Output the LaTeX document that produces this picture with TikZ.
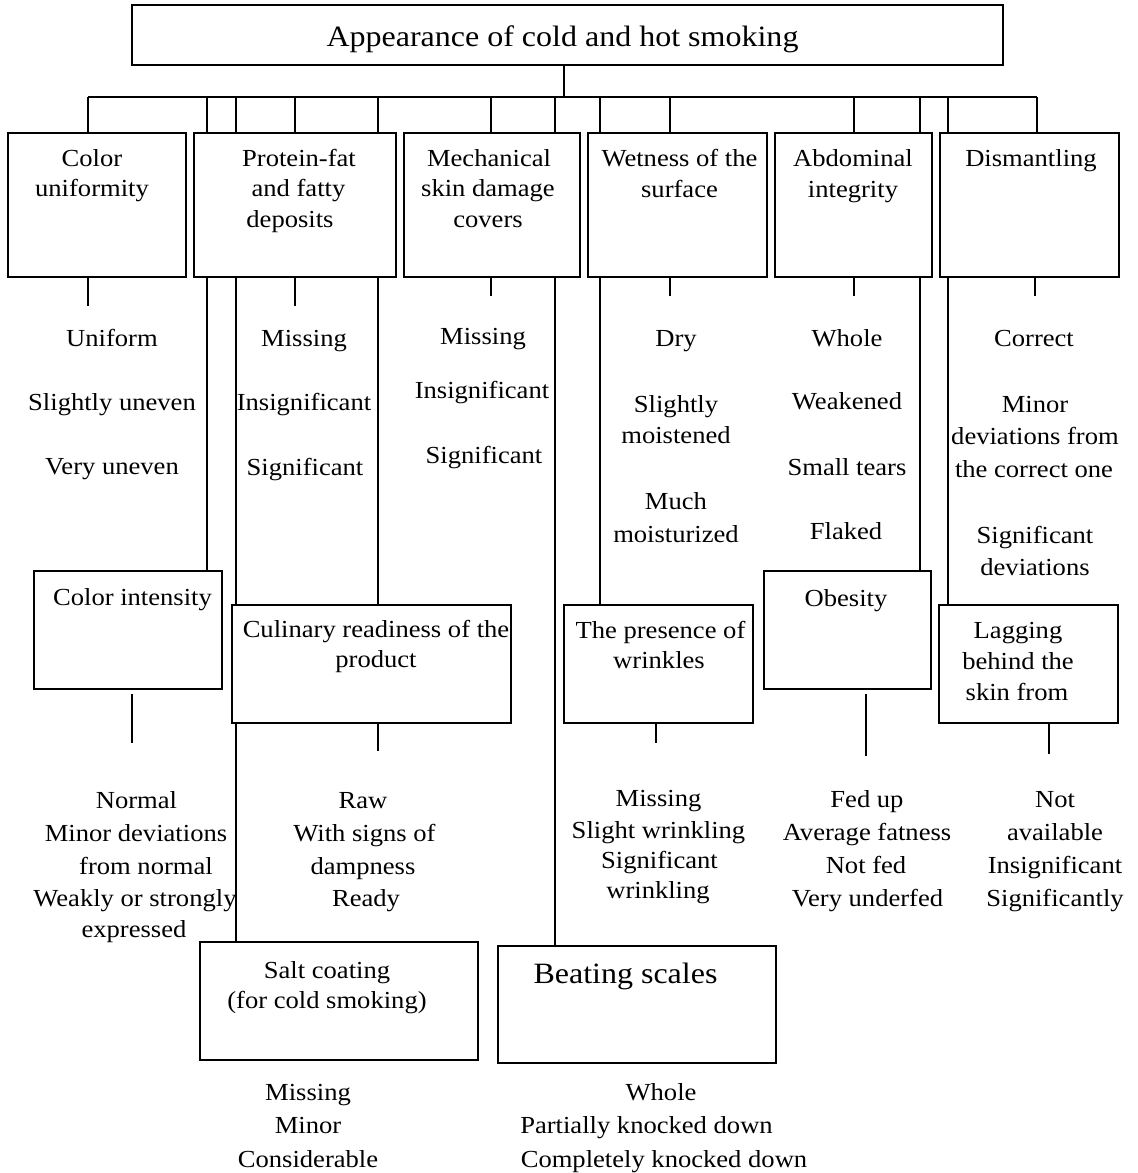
\documentclass[tikz,border=0pt]{standalone}
\usepackage{fontspec}
\setmainfont[FakeStretch=1.085]{Liberation Serif}
\pgfdeclarelayer{bg}
\pgfsetlayers{bg,main}

\newcommand\bodysize{\fontsize{24.5}{31}\selectfont}
\newcommand\bigsize{\fontsize{29.5}{36}\selectfont}
% one line of text, placed by its centre x and its baseline y
\newcommand\lbl[4]{\node[txt] (#1) at (#2,#3) {#4};}

\begin{document}
\begin{tikzpicture}[x=1pt,y=-1pt,
  box/.style={draw, fill=white, line width=1.5pt, inner sep=0pt},
  txt/.style={anchor=base, inner sep=0pt, font=\bodysize},
  bigtxt/.style={anchor=base, inner sep=0pt, font=\bigsize},
  wire/.style={line width=1.5pt}]
\useasboundingbox (0,0) rectangle (1138,1173);
\begin{pgfonlayer}{bg}
\fill[white] (0,0) rectangle (1138,1173);
\end{pgfonlayer}

% ---------- boxes ----------
\node[box, minimum width=871, minimum height=60] (top) at (567.5,35) {};

\node[box, minimum width=178, minimum height=144] (cu)   at (97,205) {};
\node[box, minimum width=202, minimum height=144] (pf)   at (295,205) {};
\node[box, minimum width=176, minimum height=144] (mech) at (492,205) {};
\node[box, minimum width=179, minimum height=144] (wet)  at (677.5,205) {};
\node[box, minimum width=157, minimum height=144] (abd)  at (853.5,205) {};
\node[box, minimum width=179, minimum height=144] (dis)  at (1029.5,205) {};

\node[box, minimum width=188, minimum height=118] (cint) at (128,630) {};
\node[box, minimum width=279, minimum height=118] (cul)  at (371.5,664) {};
\node[box, minimum width=189, minimum height=118] (wri)  at (658.5,664) {};
\node[box, minimum width=167, minimum height=118] (obe)  at (847.5,630) {};
\node[box, minimum width=179, minimum height=118] (lag)  at (1028.5,664) {};

\node[box, minimum width=278, minimum height=118] (salt) at (339,1001) {};
\node[box, minimum width=278, minimum height=117] (beat) at (637,1004.5) {};

% ---------- connectors (behind the boxes) ----------
\coordinate (stem) at (564,97);
\coordinate (dcu)  at (88,97);
\coordinate (dci)  at (207,97);
\coordinate (dsa)  at (236,97);
\coordinate (dpf)  at (295,97);
\coordinate (dcul) at (378,97);
\coordinate (dme)  at (491,97);
\coordinate (dbe)  at (555,97);
\coordinate (dwr)  at (600,97);
\coordinate (dwe)  at (670,97);
\coordinate (dab)  at (854,97);
\coordinate (dob)  at (920,97);
\coordinate (dla)  at (948,97);
\coordinate (ddi)  at (1037,97);

\begin{pgfonlayer}{bg}
\draw[wire] (top.south -| stem) -- (stem);
\draw[wire] (dcu) -- (ddi);
\draw[wire] (dcu)  -- (dcu  |- cu.north);
\draw[wire] (dci)  -- (dci  |- cint.north);
\draw[wire] (dsa)  -- (dsa  |- salt.north);
\draw[wire] (dpf)  -- (dpf  |- pf.north);
\draw[wire] (dcul) -- (dcul |- cul.north);
\draw[wire] (dme)  -- (dme  |- mech.north);
\draw[wire] (dbe)  -- (dbe  |- beat.north);
\draw[wire] (dwr)  -- (dwr  |- wri.north);
\draw[wire] (dwe)  -- (dwe  |- wet.north);
\draw[wire] (dab)  -- (dab  |- abd.north);
\draw[wire] (dob)  -- (dob  |- obe.north);
\draw[wire] (dla)  -- (dla  |- lag.north);
\draw[wire] (ddi)  -- (ddi  |- dis.north);
\end{pgfonlayer}

% short ticks under the boxes
\draw[wire] (cu.south -| dcu)   -- ++(0,28);
\draw[wire] (pf.south)          -- ++(0,28);
\draw[wire] (mech.south -| dme) -- ++(0,18);
\draw[wire] (wet.south -| dwe)  -- ++(0,18);
\draw[wire] (abd.south -| dab)  -- ++(0,18);
\draw[wire] ([xshift=-2pt]dis.south -| ddi) -- ++(0,18);
\draw[wire] ([xshift=4pt,yshift=-4pt]cint.south) -- ++(0,49);
\draw[wire] (cul.south -| dcul) -- ++(0,27);
\draw[wire] ([xshift=-2.5pt]wri.south) -- ++(0,19);
\draw[wire] ([xshift=18.5pt,yshift=-4pt]obe.south) -- ++(0,62);
\draw[wire] ([xshift=20.5pt]lag.south) -- ++(0,30);

% ---------- titles ----------
\node[bigtxt] (ttop) at (562.5,46) {Appearance of cold and hot smoking};

\lbl{cu1}{92}{166}{Color}
\lbl{cu2}{92}{196.5}{uniformity}
\lbl{pf1}{299}{166}{Protein-fat}
\lbl{pf2}{298.5}{196.5}{and fatty}
\lbl{pf3}{290}{227}{deposits}
\lbl{me1}{489}{166}{Mechanical}
\lbl{me2}{488}{196.5}{skin damage}
\lbl{me3}{488}{227}{covers}
\lbl{we1}{679.5}{166}{Wetness of the}
\lbl{we2}{679.5}{197}{surface}
\lbl{ab1}{853}{166}{Abdominal}
\lbl{ab2}{853}{197}{integrity}
\lbl{di1}{1031}{166}{Dismantling}

% ---------- first-level grades ----------
\lbl{cuA}{112}{346}{Uniform}
\lbl{cuB}{112}{410}{Slightly uneven}
\lbl{cuC}{112}{474}{Very uneven}

\lbl{pfA}{304}{346}{Missing}
\lbl{pfB}{304}{410}{Insignificant}
\lbl{pfC}{305}{475}{Significant}

\lbl{meA}{483}{344}{Missing}
\lbl{meB}{482}{398}{Insignificant}
\lbl{meC}{484}{463}{Significant}

\lbl{weA}{676}{346}{Dry}
\lbl{weB}{676}{412}{Slightly}
\lbl{weC}{676}{443}{moistened}
\lbl{weD}{676}{509}{Much}
\lbl{weE}{676}{542}{moisturized}

\lbl{abA}{847}{346}{Whole}
\lbl{abB}{847}{409}{Weakened}
\lbl{abC}{847}{475}{Small tears}
\lbl{abD}{846}{539}{Flaked}

\lbl{diA}{1034}{346}{Correct}
\lbl{diB}{1035}{412}{Minor}
\lbl{diC}{1035}{444}{deviations from}
\lbl{diD}{1034}{477}{the correct one}
\lbl{diE}{1035}{543}{Significant}
\lbl{diF}{1035}{575}{deviations}

% ---------- second-level boxes ----------
\lbl{ci1}{132.5}{605}{Color intensity}
\lbl{cl1}{376}{637}{Culinary readiness of the}
\lbl{cl2}{376}{667}{product}
\lbl{wr1}{660.5}{638}{The presence of}
\lbl{wr2}{659}{668}{wrinkles}
\lbl{ob1}{846}{606}{Obesity}
\lbl{la1}{1018}{638}{Lagging}
\lbl{la2}{1018}{669}{behind the}
\lbl{la3}{1017}{700}{skin from}

% ---------- second-level grades ----------
\lbl{ciA}{136.5}{808}{Normal}
\lbl{ciB}{136}{841}{Minor deviations}
\lbl{ciC}{146}{874}{from normal}
\lbl{ciD}{135}{906}{Weakly or strongly}
\lbl{ciE}{134}{937}{expressed}

\lbl{clA}{363}{808}{Raw}
\lbl{clB}{364.5}{841}{With signs of}
\lbl{clC}{363}{874}{dampness}
\lbl{clD}{366}{906}{Ready}

\lbl{wrA}{658.5}{806}{Missing}
\lbl{wrB}{658.5}{838}{Slight wrinkling}
\lbl{wrC}{659.5}{868}{Significant}
\lbl{wrD}{658}{898}{wrinkling}

\lbl{obA}{867}{807}{Fed up}
\lbl{obB}{867}{840}{Average fatness}
\lbl{obC}{866}{873}{Not fed}
\lbl{obD}{867.5}{906}{Very underfed}

\lbl{laA}{1055}{807}{Not}
\lbl{laB}{1055}{840}{available}
\lbl{laC}{1055}{873}{Insignificant}
\lbl{laD}{1055}{906}{Significantly}

% ---------- third-level boxes ----------
\lbl{sa1}{327}{978}{Salt coating}
\lbl{sa2}{327}{1008}{(for cold smoking)}
\node[bigtxt] (be1) at (625.5,983) {Beating scales};

\lbl{saA}{308}{1100}{Missing}
\lbl{saB}{308}{1133}{Minor}
\lbl{saC}{308}{1167}{Considerable}

\lbl{beA}{661}{1100}{Whole}
\lbl{beB}{646.5}{1133}{Partially knocked down}
\lbl{beC}{664}{1167}{Completely knocked down}
\end{tikzpicture}
\end{document}
